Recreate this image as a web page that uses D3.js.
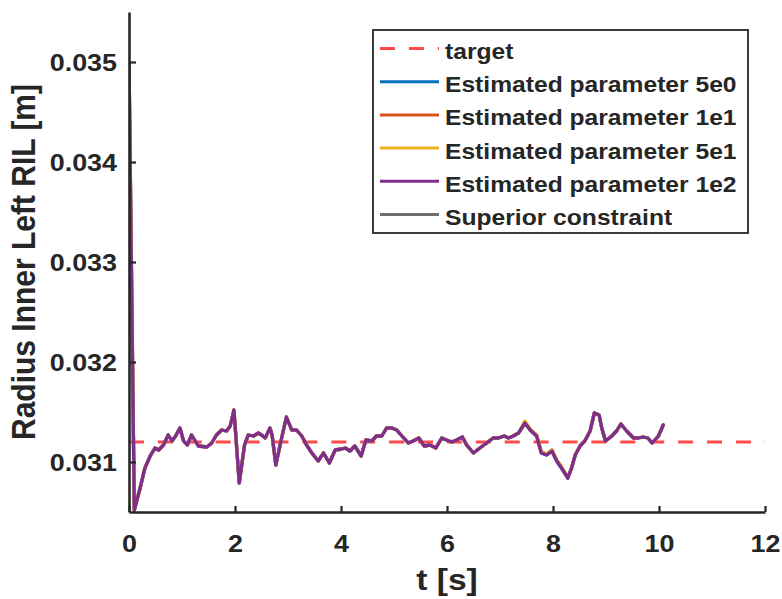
<!DOCTYPE html>
<html>
<head>
<meta charset="utf-8">
<script src="https://cdn.jsdelivr.net/npm/d3@7"></script>
<style>
  html, body { margin: 0; padding: 0; background: #fff; }
  svg text { font-family: "Liberation Sans", Arial, Helvetica, sans-serif; font-weight: bold; fill: #262626; }
</style>
</head>
<body>
<svg id="chart" width="782" height="599"></svg>
<script>
// Sample times [s]
const timeS = [0, 0.10, 0.21, 0.30, 0.40, 0.49, 0.56, 0.65, 0.74, 0.81, 0.88, 0.96, 1.03, 1.10, 1.18, 1.25, 1.31, 1.47, 1.56, 1.65, 1.75, 1.84, 1.91, 1.98, 2.08, 2.18, 2.25, 2.35, 2.44, 2.50, 2.57, 2.66, 2.70, 2.77, 2.88, 2.97, 3.07, 3.16, 3.26, 3.35, 3.45, 3.57, 3.67, 3.78, 3.89, 4.01, 4.08, 4.17, 4.26, 4.38, 4.47, 4.58, 4.67, 4.77, 4.86, 4.96, 5.05, 5.15, 5.27, 5.36, 5.47, 5.57, 5.68, 5.79, 5.90, 5.99, 6.09, 6.18, 6.29, 6.37, 6.50, 6.62, 6.75, 6.87, 6.97, 7.08, 7.16, 7.25, 7.35, 7.47, 7.57, 7.69, 7.78, 7.88, 7.98, 8.07, 8.16, 8.28, 8.35, 8.42, 8.51, 8.60, 8.70, 8.78, 8.87, 8.92, 8.99, 9.11, 9.20, 9.28, 9.39, 9.52, 9.61, 9.70, 9.79, 9.87, 9.99, 10.08];

// Estimated RIL [m] for each estimator gain
const est5e0 = [0.03500, 0.03052, 0.03074, 0.03094, 0.03106, 0.03114, 0.03112, 0.03117, 0.03127, 0.03121, 0.03126, 0.03134, 0.03121, 0.03117, 0.03127, 0.03121, 0.03116, 0.03115, 0.03119, 0.03127, 0.03132, 0.03131, 0.03136, 0.03152, 0.03079, 0.03117, 0.03127, 0.03126, 0.03129, 0.03127, 0.03124, 0.03134, 0.03127, 0.03097, 0.03124, 0.03145, 0.03132, 0.03132, 0.03126, 0.03117, 0.03109, 0.03101, 0.03109, 0.03099, 0.03112, 0.03113, 0.03114, 0.03111, 0.03116, 0.03106, 0.03122, 0.03121, 0.03126, 0.03126, 0.03134, 0.03134, 0.03132, 0.03126, 0.03119, 0.03121, 0.03124, 0.03116, 0.03117, 0.03114, 0.03124, 0.03122, 0.03120, 0.03122, 0.03125, 0.03117, 0.03109, 0.03114, 0.03119, 0.03124, 0.03124, 0.03126, 0.03124, 0.03126, 0.03129, 0.03139, 0.03132, 0.03126, 0.03109, 0.03107, 0.03111, 0.03101, 0.03094, 0.03084, 0.03094, 0.03107, 0.03116, 0.03121, 0.03131, 0.03149, 0.03147, 0.03134, 0.03121, 0.03126, 0.03131, 0.03138, 0.03131, 0.03124, 0.03124, 0.03125, 0.03124, 0.03119, 0.03126, 0.03137];
const est1e1 = [0.03500, 0.03052, 0.03074, 0.03094, 0.03106, 0.03114, 0.03112, 0.03117, 0.03127, 0.03121, 0.03126, 0.03134, 0.03121, 0.03117, 0.03127, 0.03121, 0.03116, 0.03115, 0.03119, 0.03127, 0.03132, 0.03131, 0.03136, 0.03152, 0.03079, 0.03117, 0.03127, 0.03126, 0.03129, 0.03127, 0.03124, 0.03134, 0.03127, 0.03097, 0.03124, 0.03145, 0.03132, 0.03132, 0.03126, 0.03117, 0.03109, 0.03101, 0.03109, 0.03099, 0.03112, 0.03113, 0.03114, 0.03111, 0.03116, 0.03106, 0.03122, 0.03121, 0.03126, 0.03126, 0.03134, 0.03134, 0.03132, 0.03126, 0.03119, 0.03121, 0.03124, 0.03116, 0.03117, 0.03114, 0.03124, 0.03122, 0.03120, 0.03122, 0.03125, 0.03117, 0.03109, 0.03114, 0.03119, 0.03124, 0.03124, 0.03126, 0.03124, 0.03126, 0.03129, 0.03139, 0.03132, 0.03127, 0.03110, 0.03108, 0.03112, 0.03102, 0.03095, 0.03084, 0.03094, 0.03107, 0.03116, 0.03121, 0.03131, 0.03149, 0.03147, 0.03134, 0.03121, 0.03126, 0.03131, 0.03138, 0.03131, 0.03124, 0.03124, 0.03125, 0.03124, 0.03119, 0.03126, 0.03137];
const est5e1 = [0.03500, 0.03052, 0.03074, 0.03094, 0.03106, 0.03114, 0.03112, 0.03117, 0.03127, 0.03121, 0.03126, 0.03134, 0.03121, 0.03117, 0.03127, 0.03121, 0.03116, 0.03115, 0.03119, 0.03127, 0.03132, 0.03131, 0.03136, 0.03152, 0.03079, 0.03117, 0.03127, 0.03126, 0.03129, 0.03127, 0.03124, 0.03134, 0.03127, 0.03097, 0.03124, 0.03145, 0.03132, 0.03132, 0.03126, 0.03117, 0.03109, 0.03101, 0.03109, 0.03099, 0.03112, 0.03113, 0.03114, 0.03111, 0.03116, 0.03106, 0.03122, 0.03121, 0.03126, 0.03126, 0.03134, 0.03134, 0.03132, 0.03126, 0.03119, 0.03121, 0.03124, 0.03116, 0.03117, 0.03114, 0.03124, 0.03122, 0.03120, 0.03122, 0.03125, 0.03117, 0.03109, 0.03114, 0.03119, 0.03124, 0.03124, 0.03126, 0.03124, 0.03126, 0.03129, 0.03141, 0.03133, 0.03127, 0.03110, 0.03108, 0.03112, 0.03102, 0.03095, 0.03085, 0.03094, 0.03107, 0.03116, 0.03121, 0.03131, 0.03149, 0.03147, 0.03134, 0.03121, 0.03126, 0.03131, 0.03138, 0.03131, 0.03124, 0.03124, 0.03125, 0.03124, 0.03119, 0.03126, 0.03137];
const est1e2 = [0.03500, 0.03052, 0.03074, 0.03094, 0.03106, 0.03114, 0.03112, 0.03117, 0.03127, 0.03121, 0.03126, 0.03134, 0.03121, 0.03117, 0.03127, 0.03121, 0.03116, 0.03115, 0.03119, 0.03127, 0.03132, 0.03131, 0.03136, 0.03152, 0.03079, 0.03117, 0.03127, 0.03126, 0.03129, 0.03127, 0.03124, 0.03134, 0.03127, 0.03097, 0.03124, 0.03145, 0.03132, 0.03132, 0.03126, 0.03117, 0.03109, 0.03101, 0.03109, 0.03099, 0.03112, 0.03113, 0.03114, 0.03111, 0.03116, 0.03106, 0.03122, 0.03121, 0.03126, 0.03126, 0.03134, 0.03134, 0.03132, 0.03126, 0.03119, 0.03121, 0.03124, 0.03116, 0.03117, 0.03114, 0.03124, 0.03122, 0.03120, 0.03122, 0.03125, 0.03117, 0.03109, 0.03114, 0.03119, 0.03124, 0.03124, 0.03126, 0.03124, 0.03126, 0.03129, 0.03139, 0.03132, 0.03126, 0.03109, 0.03107, 0.03111, 0.03101, 0.03094, 0.03084, 0.03094, 0.03107, 0.03116, 0.03121, 0.03131, 0.03149, 0.03147, 0.03134, 0.03121, 0.03126, 0.03131, 0.03138, 0.03131, 0.03124, 0.03124, 0.03125, 0.03124, 0.03119, 0.03126, 0.03137];

// Reference value and upper bound (the bound lies above the visible range)
const targetTime = [0, 12];
const targetValue = [0.03120, 0.03120];
const constraintTime = [0, 12];
const constraintValue = [0.0380, 0.0380];

// Axis ticks
const xTicks = [0, 2, 4, 6, 8, 10, 12];
const yTicks = [0.031, 0.032, 0.033, 0.034, 0.035];
const yTickLabels = ["0.031", "0.032", "0.033", "0.034", "0.035"];

const legendLabels = ["target", "Estimated parameter 5e0", "Estimated parameter 1e1", "Estimated parameter 5e1", "Estimated parameter 1e2", "Superior constraint"];
const colors = { target: "#ff4a4a", c5e0: "#0072bd", c1e1: "#d95319", c5e1: "#edb120", c1e2: "#7e2f8e", sup: "#6e6e6e" };

const SX = 1.12;           // horizontal stretch applied to glyphs
const axisColor = "#262626";

const svg = d3.select("#chart");
const plot = { left: 129, right: 765, top: 12, bottom: 512 };

const x = d3.scaleLinear().domain([0, 12]).range([plot.left, plot.right]);
const y = d3.scaleLinear().domain([0.0305, 0.0355]).range([plot.bottom, plot.top]);

svg.append("defs").append("clipPath").attr("id", "plotClip")
  .append("rect")
  .attr("x", plot.left).attr("y", plot.top - 2)
  .attr("width", plot.right - plot.left).attr("height", plot.bottom - plot.top + 2);

const line = d3.line().x(d => x(d[0])).y(d => y(d[1]));
const zipSeries = (ts, vs) => ts.map((t, i) => [t, vs[i]]);

const marks = svg.append("g").attr("clip-path", "url(#plotClip)");

// Target (dashed)
marks.append("path")
  .attr("d", line(zipSeries(targetTime, targetValue)))
  .attr("fill", "none").attr("stroke", colors.target)
  .attr("stroke-width", 3.2).attr("stroke-dasharray", "15 13.9");

const series = [
  { vals: est5e0, color: colors.c5e0 },
  { vals: est1e1, color: colors.c1e1 },
  { vals: est5e1, color: colors.c5e1 },
  { vals: est1e2, color: colors.c1e2 }
];
series.forEach(s => {
  marks.append("path")
    .attr("d", line(zipSeries(timeS, s.vals)))
    .attr("fill", "none").attr("stroke", s.color)
    .attr("stroke-width", 3.3).attr("stroke-linejoin", "round").attr("stroke-linecap", "round");
});

// Superior constraint
marks.append("path")
  .attr("d", line(zipSeries(constraintTime, constraintValue)))
  .attr("fill", "none").attr("stroke", colors.sup).attr("stroke-width", 3);

// Axes: inward ticks, no box
const yAxis = d3.axisLeft(y).tickValues(yTicks)
  .tickFormat((d, i) => yTickLabels[i]).tickSizeInner(-7).tickSizeOuter(0).tickPadding(12);
const gy = svg.append("g").attr("transform", `translate(${plot.left},0)`).call(yAxis);
gy.select(".domain").attr("stroke", axisColor).attr("stroke-width", 2.6);
gy.selectAll(".tick line").attr("stroke", axisColor).attr("stroke-width", 2.2);
gy.selectAll(".tick text")
  .attr("font-size", 24).attr("fill", axisColor)
  .attr("x", -12 / SX).attr("dy", "0.36em")
  .attr("transform", `scale(${SX},1)`);

const xAxis = d3.axisBottom(x).tickValues(xTicks).tickFormat(d3.format("d"))
  .tickSizeInner(-6).tickSizeOuter(0).tickPadding(0);
const gx = svg.append("g").attr("transform", `translate(0,${plot.bottom})`).call(xAxis);
gx.select(".domain").attr("stroke", axisColor).attr("stroke-width", 2.4);
gx.selectAll(".tick line").attr("stroke", axisColor).attr("stroke-width", 2.2);
gx.selectAll(".tick text")
  .attr("font-size", 24).attr("fill", axisColor)
  .attr("y", 40).attr("dy", 0)
  .attr("transform", `scale(${SX},1)`);

// Axis titles
svg.append("text")
  .attr("transform", `translate(${(plot.left + plot.right) / 2},590) scale(${SX},1)`)
  .attr("text-anchor", "middle").attr("font-size", 30)
  .text("t [s]");

svg.append("text")
  .attr("transform", `translate(35,${(plot.top + plot.bottom) / 2}) scale(${SX},1) rotate(-90)`)
  .attr("text-anchor", "middle").attr("font-size", 30)
  .text("Radius Inner Left RIL [m]");

// Legend
const lg = svg.append("g");
lg.append("rect")
  .attr("x", 373).attr("y", 30).attr("width", 375).attr("height", 203)
  .attr("fill", "#fff").attr("stroke", axisColor).attr("stroke-width", 1.8);

const legendItems = [
  { label: legendLabels[0], color: colors.target, dash: "15 13.9" },
  { label: legendLabels[1], color: colors.c5e0 },
  { label: legendLabels[2], color: colors.c1e1 },
  { label: legendLabels[3], color: colors.c5e1 },
  { label: legendLabels[4], color: colors.c1e2 },
  { label: legendLabels[5], color: colors.sup }
];
legendItems.forEach((it, i) => {
  const ry = 48.5 + i * 33.2;
  lg.append("line")
    .attr("x1", 380).attr("x2", 439).attr("y1", ry).attr("y2", ry)
    .attr("stroke", it.color).attr("stroke-width", 3)
    .attr("stroke-dasharray", it.dash || null);
  lg.append("text")
    .attr("transform", `translate(445,${ry + 10.5}) scale(${SX},1)`)
    .attr("font-size", 22)
    .text(it.label);
});
</script>
</body>
</html>
